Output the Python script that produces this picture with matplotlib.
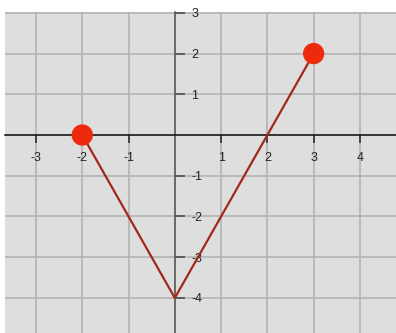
import matplotlib
matplotlib.use('Agg')
import matplotlib.pyplot as plt

plt.rcParams['font.family'] = ['Liberation Sans', 'DejaVu Sans']

# piecewise line: vertex points
X = [-2, 0, 3]
Y = [0, -4, 2]
# endpoints drawn as big dots
DOT_X = [-2, 3]
DOT_Y = [0, 2]

XTICKS = [-3, -2, -1, 1, 2, 3, 4]
YTICKS = [-4, -3, -2, -1, 1, 2, 3]
GRID_X = [-3, -2, -1, 0, 1, 2, 3, 4]
GRID_Y = [-4, -3, -2, -1, 0, 1, 2, 3]

fig = plt.figure(figsize=(3.96, 3.33), dpi=100)
ax = fig.add_axes([5 / 396, 0, 391 / 396, 321 / 333])
ax.set_facecolor('#dedede')

for gx in GRID_X:
    ax.axvline(gx, color='#b3b3b3', lw=1.2, zorder=1)
for gy in GRID_Y:
    ax.axhline(gy, color='#b3b3b3', lw=1.2, zorder=1)

ax.plot(X, Y, color='#a3281c', lw=1.6, zorder=4)
ax.scatter(DOT_X, DOT_Y, s=235, color='#ee2a0c', zorder=5, edgecolors='none')

ax.set_xlim(-3.67, 4.78)
ax.set_ylim(-4.86, 3.02)

# axes through the origin
ax.spines['top'].set_visible(False)
ax.spines['left'].set_visible(False)
ax.spines['bottom'].set_position(('data', 0))
ax.spines['right'].set_position(('data', 0))
ax.spines['bottom'].set_color('#111111')
ax.spines['right'].set_color('#555555')
ax.spines['bottom'].set_linewidth(1.1)
ax.spines['right'].set_linewidth(1.1)
ax.spines['bottom'].set_zorder(3)
ax.spines['right'].set_zorder(3)

ax.xaxis.set_ticks_position('bottom')
ax.yaxis.set_ticks_position('right')
ax.set_xticks(XTICKS)
ax.set_yticks(YTICKS)
ax.set_xticklabels([str(t) for t in XTICKS])
ax.set_yticklabels([str(t) for t in YTICKS])
ax.tick_params(axis='x', direction='out', length=6, width=1.1, color='#222222',
               pad=6, labelsize=9, labelcolor='#222222')
ax.tick_params(axis='y', direction='out', length=7, width=1.1, color='#444444',
               pad=5, labelsize=9, labelcolor='#222222')

fig.savefig('out.png', dpi=100)
